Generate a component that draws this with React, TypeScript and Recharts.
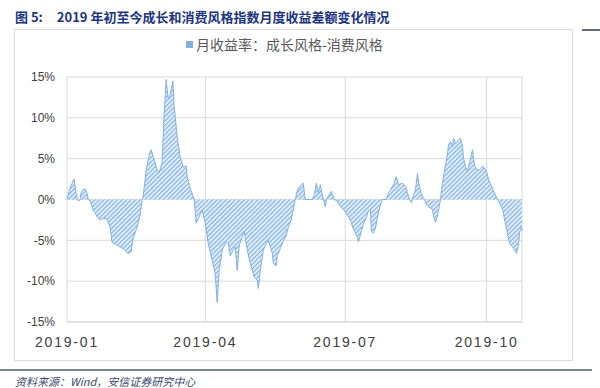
import { Area, AreaChart, CartesianGrid, XAxis, YAxis } from "recharts";

// day offset from 2019-01-01 and the monthly return spread (growth - consumer), %
const days = [
  0, 1.3, 3.3, 4.6, 5.9, 6.7, 7.5, 8.5, 9.1, 10.4, 11.7, 13.0, 13.9, 15.4, 16.9, 18.2, 19.5,
  21.5, 23.5, 26.1, 28.0, 29.3, 32.6, 34.5, 36.5, 39.7, 41.7, 43.0, 45.6, 47.6, 48.9, 49.5,
  51.5, 53.4, 54.7, 56.7, 58.6, 59.9, 61.9, 62.9, 64.5, 65.8, 67.1, 68.9, 69.7, 71.7, 73.6,
  75.6, 77.5, 78.2, 80.1, 82.1, 82.7, 84.0, 85.3, 87.9, 89.9, 91.9, 94.5, 96.4, 97.7, 99.0,
  101.0, 102.9, 104.9, 106.2, 108.1, 109.4, 110.7, 112.1, 114.0, 115.3, 117.3, 119.2, 121.8,
  123.8, 124.4, 125.7, 127.7, 129.6, 130.9, 133.6, 134.2, 136.2, 136.8, 138.8, 140.7, 142.7,
  144.0, 145.9, 147.2, 148.5, 149.8, 151.8, 153.7, 155.0, 159.6, 160.9, 162.2, 163.5, 164.8,
  166.8, 168.1, 168.7, 170.0, 172.0, 173.3, 173.9, 175.9, 177.9, 179.8, 182.4, 184.4, 186.3,
  188.9, 189.6, 191.5, 192.8, 194.8, 196.1, 197.4, 198.0, 199.3, 200.7, 202.0, 203.9, 205.2,
  207.8, 208.5, 210.4, 212.4, 214.3, 215.6, 218.2, 220.2, 221.5, 222.8, 224.1, 225.4, 226.7,
  228.0, 229.3, 231.3, 232.6, 233.9, 235.2, 237.8, 238.4, 239.7, 241.0, 241.7, 243.0, 243.6,
  244.9, 247.6, 248.2, 249.5, 250.8, 251.5, 252.8, 254.1, 254.7, 256.0, 257.3, 258.0, 259.3,
  260.6, 261.2, 262.5, 263.8, 264.5, 265.8, 267.8, 269.1, 270.4, 271.0, 273.0, 274.3, 276.9,
  278.8, 280.1, 280.8, 283.4, 284.7, 286.6, 287.9, 289.9, 291.2, 292.5, 293.8, 294.5, 295.8, 296
];

const spread = [
  0, 1.0, 2.0, 2.5, 0.8, 0, -0.2, 0, 0.8, 1.2, 1.3, 0.8, 0, -0.3, -1.3, -1.6, -2.1,
  -2.5, -2.3, -2.4, -3.4, -5.2, -5.6, -5.8, -6.0, -6.6, -6.4, -4.8, -3.4, -1.9, 0, 0.3,
  3.6, 5.4, 6.1, 4.9, 3.6, 3.3, 4.5, 9.4, 14.7, 12.4, 12.8, 14.5, 11.4, 7.7, 5.2,
  4.0, 4.1, 2.8, 1.4, 0.4, 0, -2.9, -2.4, -1.3, -2.8, -5.4, -7.5, -9.1, -12.6, -8.7,
  -6.2, -5.4, -5.3, -6.9, -6.2, -5.8, -8.7, -5.6, -4.6, -3.9, -6.2, -7.8, -9.5,
  -9.9, -10.9, -8.8, -6.2, -5.4, -5.0, -6.6, -7.8, -8.1, -6.9, -6.0, -5.1, -4.4,
  -3.4, -2.5, -1.2, 0, 1.1, 1.7, 2.0, 0, 0, 0.6, 2.0, 0.8, 1.8,
  0, -0.9, 0, 0.4, 1.0, 0.3, 0, -0.2, -0.9, -1.2, -1.9, -2.6, -3.6,
  -4.6, -5.2, -3.9, -3.0, -2.2, -1.4, -1.2, -3.9, -4.1, -3.5, -2.2, -0.6, 0,
  0, 0.6, 1.2, 1.8, 2.8, 1.8, 2.0, 1.6, 0.8, 0, -0.4, 0.5, 1.2,
  3.2, 1.5, 0.3, 0, -0.7, -0.9, -1.2, -2.0, -2.8, -2.0, -1.3, 0, 1.2,
  2.8, 5.7, 6.7, 7.1, 6.5, 7.5, 6.9, 7.1, 7.3, 7.5, 6.5, 5.0, 4.0,
  3.4, 4.0, 5.0, 6.1, 4.9, 3.8, 3.6, 3.8, 4.1, 4.0, 3.4, 2.4, 1.3,
  0.5, 0, -0.2, -1.2, -2.5, -4.2, -5.4, -5.8, -6.2, -6.6, -5.4, -4.0, -3.4, -3.8
];

const xTicks = [0, 90, 181, 273];
const xTickLabels = ["2019-01", "2019-04", "2019-07", "2019-10"];
const yTicks = [-15, -10, -5, 0, 5, 10, 15];

const TITLE = "2019 年初至今成长和消费风格指数月度收益差额变化情况";
const SERIES_NAME = "月收益率：成长风格-消费风格";
const SOURCE = "资料来源：Wind，安信证券研究中心";

const data = days.map((day, i) => ({ day, value: spread[i] }));

export default function App() {
  return (
    <div
      style={{
        position: "absolute",
        left: 0,
        top: 0,
        width: 600,
        height: 388,
        background: "#fff",
        fontFamily: "'Noto Sans CJK SC', 'Liberation Sans', sans-serif",
        overflow: "hidden"
      }}
    >
      <div
        style={{
          position: "absolute",
          left: 15,
          top: 8,
          fontSize: 13,
          fontWeight: 700,
          color: "#1c3580",
          whiteSpace: "nowrap",
          lineHeight: "18px"
        }}
      >
        <span>图 5:</span>
        <span style={{ marginLeft: 14 }}>{TITLE}</span>
      </div>
      <div style={{ position: "absolute", left: 582, top: 29, width: 18, height: 2, background: "#5f6b7a" }} />
      <div
        style={{
          position: "absolute",
          left: 14,
          top: 29,
          width: 557,
          height: 330,
          border: "1px solid #dcdcdc"
        }}
      />
      <div
        style={{
          position: "absolute",
          left: 186,
          top: 35,
          display: "flex",
          alignItems: "center",
          fontSize: 14,
          color: "#595959",
          whiteSpace: "nowrap",
          lineHeight: "18px"
        }}
      >
        <span
          style={{
            display: "inline-block",
            width: 7,
            height: 7,
            background: "#7fb0e2",
            marginRight: 3
          }}
        />
        {SERIES_NAME}
      </div>
      <div style={{ position: "absolute", left: 0, top: 369, width: 592, height: 2, background: "#7a8591" }} />
      <div
        style={{
          position: "absolute",
          left: 15,
          top: 375,
          fontSize: 11,
          fontStyle: "italic",
          color: "#3b4a6b",
          whiteSpace: "nowrap",
          lineHeight: "13px"
        }}
      >
        {SOURCE}
      </div>
      <div style={{ position: "absolute", left: 0, top: 0 }}>
        <AreaChart
          width={600}
          height={388}
          data={data}
          margin={{ top: 77, right: 78, left: 17, bottom: 36 }}
        >
          <defs>
            <pattern
              id="hatch"
              patternUnits="userSpaceOnUse"
              width={3.2}
              height={3.2}
              patternTransform="rotate(45)"
            >
              <rect width={3.2} height={3.2} fill="#dceaf8" />
              <line x1={0} y1={0} x2={0} y2={3.2} stroke="#76aae0" strokeWidth={1.8} />
            </pattern>
          </defs>
          <CartesianGrid stroke="#d9d9d9" />
          <XAxis
            type="number"
            dataKey="day"
            domain={[0, 296]}
            ticks={xTicks}
            tickFormatter={(v: number) => xTickLabels[xTicks.indexOf(v)] ?? ""}
            tickLine={false}
            axisLine={{ stroke: "#d9d9d9" }}
            tickMargin={9}
            height={30}
            tick={{ fill: "#404040", fontSize: 14, letterSpacing: 1.8, fontFamily: "'Liberation Sans', sans-serif" }}
          />
          <YAxis
            type="number"
            domain={[-15, 15]}
            ticks={yTicks}
            tickFormatter={(v: number) => `${v}%`}
            tickLine={false}
            axisLine={false}
            tickMargin={6}
            width={50}
            tick={{ fill: "#404040", fontSize: 12, fontFamily: "'Liberation Sans', sans-serif" }}
          />
          <Area
            type="linear"
            dataKey="value"
            baseValue={0}
            stroke="#80b2e3"
            strokeWidth={1}
            fill="url(#hatch)"
            fillOpacity={1}
            isAnimationActive={false}
            dot={false}
            activeDot={false}
          />
        </AreaChart>
      </div>
    </div>
  );
}
